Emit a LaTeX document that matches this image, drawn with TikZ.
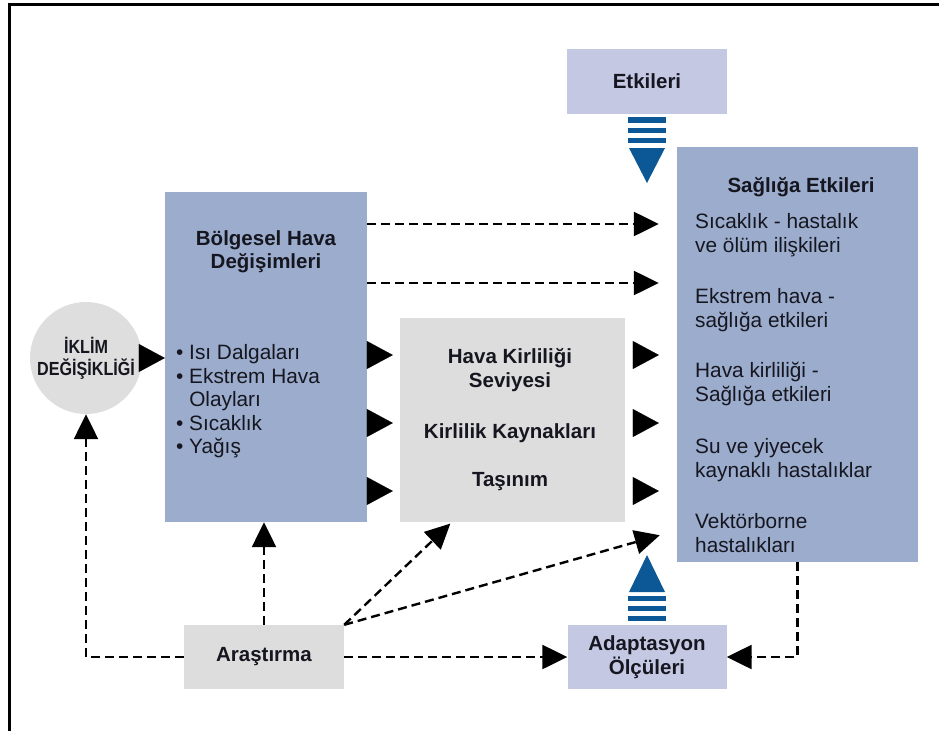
\documentclass[tikz,border=0pt]{standalone}
\usepackage{fontspec}
\setmainfont{Liberation Sans}
\usetikzlibrary{arrows.meta}
\definecolor{boxblue}{RGB}{155,172,204}
\definecolor{boxlav}{RGB}{197,200,226}
\definecolor{boxgrey}{RGB}{221,221,221}
\definecolor{circgrey}{RGB}{222,222,222}
\definecolor{stripe}{RGB}{12,88,150}
\definecolor{txt}{RGB}{22,22,32}
\begin{document}
\begin{tikzpicture}[x=1pt,y=-1pt,
  box/.style={draw=none,rectangle,inner sep=0pt,text=txt,align=center,
    font=\bfseries\fontsize{20.5}{23.5}\selectfont},
  lbl/.style={text=txt,inner sep=0pt,font=\fontsize{20.8}{23.5}\selectfont},
  blbl/.style={text=txt,inner sep=0pt,align=center,font=\bfseries\fontsize{20.5}{23.5}\selectfont},
  dashconn/.style={line width=2.4pt,dash pattern=on 9pt off 5pt,
    -{Triangle[length=25pt,width=24pt]}},
  solidtip/.style={line width=0.1pt,-{Triangle[length=26pt,width=28pt]}},
]
\useasboundingbox (0,0) rectangle (939,731);
\fill[white] (0,0) rectangle (939,731);
\draw[line width=3pt] (9,731) -- (9,4) -- (939,4);

% boxes
\node[box,fill=boxlav,minimum width=160pt,minimum height=65pt] (etk) at (647,81) {Etkileri};
\node[box,fill=boxblue,minimum width=241pt,minimum height=415pt] (sag) at (797.5,354.5) {};
\node[box,fill=boxblue,minimum width=202pt,minimum height=330pt] (bolg) at (266,357) {};
\node[box,fill=boxgrey,minimum width=225pt,minimum height=204pt] (hava) at (512.5,420) {};
\node[circle,fill=circgrey,minimum size=112pt,inner sep=0pt,text=txt,align=center,
  font=\bfseries\fontsize{19}{23}\selectfont] (ik) at (86,358)
  {\scalebox{0.85}[1]{İKLİM}\\[-1pt]\scalebox{0.85}[1]{DEĞİŞİKLİĞİ}};
\node[box,fill=boxgrey,minimum width=160pt,minimum height=64pt] (ara) at (264,657) {Araştırma};
\node[box,fill=boxlav,minimum width=159pt,minimum height=64pt] (adp) at (647,657) {Adaptasyon\\Ölçüleri};

% texts
\node[blbl] (sagh) at (801,187) {Sağlığa Etkileri};
\node[lbl,anchor=west,align=left] (s1) at (695,235) {Sıcaklık - hastalık\\ve ölüm ilişkileri};
\node[lbl,anchor=west,align=left] (s2) at (695,310) {Ekstrem hava -\\sağlığa etkileri};
\node[lbl,anchor=west,align=left] (s3) at (695,384) {Hava kirliliği -\\Sağlığa etkileri};
\node[lbl,anchor=west,align=left] (s4) at (695,460) {Su ve yiyecek\\kaynaklı hastalıklar};
\node[lbl,anchor=west,align=left] (s5) at (695,533) {Vektörborne\\hastalıkları};

\node[blbl] (bh) at (266,251.5) {Bölgesel Hava\\Değişimleri};
\node[lbl,anchor=west,align=left] (bl) at (176,401.5)
  {\textbullet\ Isı Dalgaları\\\textbullet\ Ekstrem Hava\\\phantom{\textbullet\ }Olayları\\\textbullet\ Sıcaklık\\\textbullet\ Yağış};

\node[blbl] (h1) at (510,370) {Hava Kirliliği\\Seviyesi};
\node[blbl] (h2) at (510,433) {Kirlilik Kaynakları};
\node[blbl] (h3) at (510,482) {Taşınım};

% row coordinates
\coordinate (d1) at (0,224);
\coordinate (d2) at (0,283);
\coordinate (r1) at (0,355);
\coordinate (r2) at (0,423);
\coordinate (r3) at (0,491);

% connectors
\draw[solidtip] (ik.east) -- (bolg.west |- ik.east);
\draw[dashconn,shorten >=18pt] (bolg.east |- d1) -- (sag.west |- d1);
\draw[dashconn,shorten >=18pt] (bolg.east |- d2) -- (sag.west |- d2);
\foreach \r in {r1,r2,r3}{
  \draw[solidtip,shorten >=7pt] (bolg.east |- \r) -- (hava.west |- \r);
  \draw[solidtip,shorten <=8pt,shorten >=18pt] (hava.east |- \r) -- (sag.west |- \r);
}
\draw[dashconn] (ara.west) -| (ik.south);
\draw[dashconn] (ara.north) -- (ara.north |- bolg.south);
\draw[dashconn,shorten >=2pt] (ara.north east) -- ([xshift=52pt]hava.south west);
\draw[dashconn] (ara.north east) -- ([xshift=-17pt,yshift=27pt]sag.south west);
\draw[dashconn] (ara.east) -- (adp.west);
\draw[dashconn] (sag.south) |- (adp.east);

% striped block arrows
\fill[stripe] (628,117) rectangle (666,123);
\fill[stripe] (628,127.5) rectangle (666,133);
\fill[stripe] (628,138) rectangle (666,143);
\fill[stripe] (629,148) -- (665,148) -- (647,183) -- cycle;
\fill[stripe] (629,592) -- (665,592) -- (647,555) -- cycle;
\fill[stripe] (628,596) rectangle (666,601);
\fill[stripe] (628,606) rectangle (666,611);
\fill[stripe] (628,616) rectangle (666,621);
\end{tikzpicture}
\end{document}
